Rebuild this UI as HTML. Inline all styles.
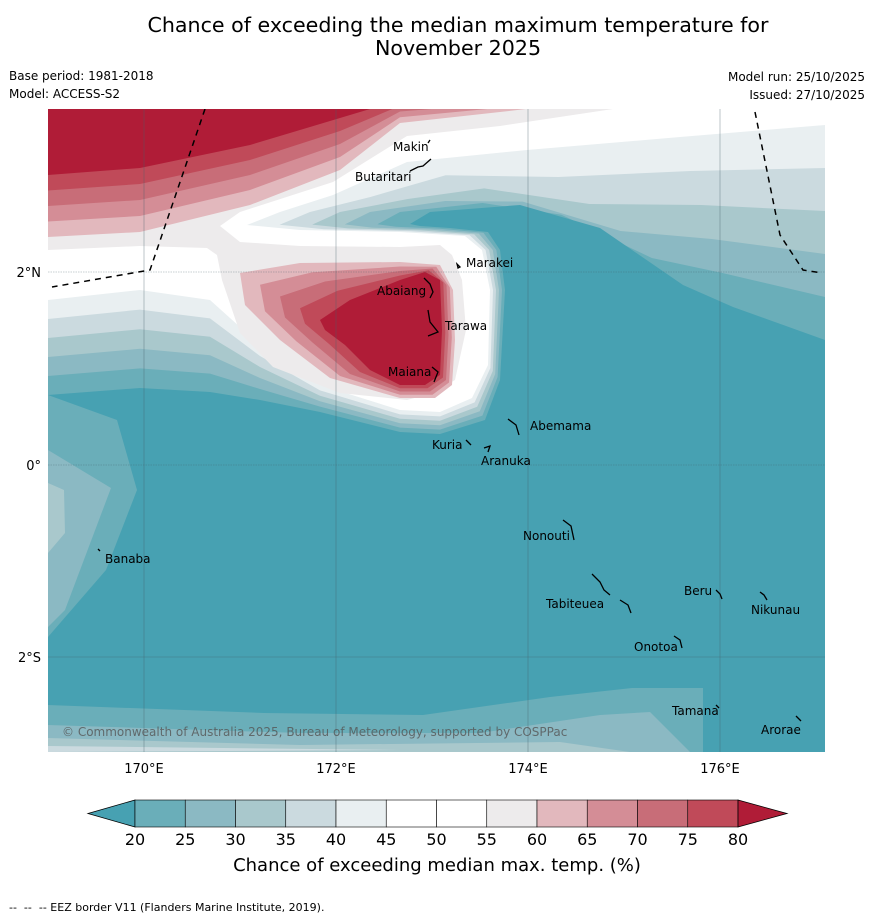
<!DOCTYPE html>
<html><head><meta charset="utf-8"><style>
html,body{margin:0;padding:0;background:#fff;}
body{width:873px;height:919px;overflow:hidden;font-family:"DejaVu Sans","Liberation Sans",sans-serif;}
svg text{font-family:"DejaVu Sans","Liberation Sans",sans-serif;}
</style></head><body>
<svg id="fig" width="873" height="919" viewBox="0 0 873 919" xmlns="http://www.w3.org/2000/svg">
<text x="458" y="32" font-size="20.6" text-anchor="middle">Chance of exceeding the median maximum temperature for</text>
<text x="458" y="55" font-size="20.6" text-anchor="middle">November 2025</text>
<text x="9" y="80" font-size="12">Base period: 1981-2018</text>
<text x="9" y="98" font-size="12">Model: ACCESS-S2</text>
<text x="865" y="81" font-size="12" text-anchor="end">Model run: 25/10/2025</text>
<text x="865" y="99" font-size="12" text-anchor="end">Issued: 27/10/2025</text>
<defs><clipPath id="mc"><rect x="48" y="109" width="777" height="643"/></clipPath></defs>
<g id="map" clip-path="url(#mc)"></g>
<g id="over"></g>
<g id="cbar"></g>
<text x="437" y="871" font-size="18" text-anchor="middle">Chance of exceeding median max. temp. (%)</text>
<text x="9" y="911" font-size="11" style="white-space:pre">--  --  -- EEZ border V11 (Flanders Marine Institute, 2019).</text>
</svg>
<script>
// colour levels (%)
const levels=[20,25,30,35,40,45,50,55,60,65,70,75,80];
const bandColors=["#47a1b2","#6aaeb9","#8bb9c3","#a9c8cc","#cbdadf","#e9eff1","#ffffff","#ffffff","#edebec","#e2b8bd","#d48d96","#c86d78","#c04a59","#b01c37"];
// contour geometry (lat/lon mapped to screen)
const L45=[[48,300],[140,290],[210,300],[260,345],[320,385],[400,410],[440,412],[472,398],[488,365],[490,290],[482,250],[465,236],[400,232],[300,230],[247,225],[280,212],[333,195],[407,162],[527,150],[680,137],[825,125]];
const L20=[[48,395],[140,388],[210,392],[260,400],[320,412],[400,432],[440,434],[485,420],[500,380],[505,290],[500,250],[488,232],[450,228],[420,226],[410,224],[430,212],[520,205],[600,228],[683,285],[733,307],[825,340]];
const N60=[[48,237],[140,232],[250,205],[340,170],[400,123],[500,112],[560,105],[680,100]];
const N80=[[48,175],[140,168],[250,145],[340,118],[400,100],[500,95],[560,95],[680,95]];
const B60=[[240,273],[300,263],[400,262],[440,265],[453,290],[455,340],[452,385],[435,398],[400,398],[330,378],[280,340],[245,305]];
const B80=[[320,320],[350,300],[400,280],[425,272],[440,280],[442,330],[440,375],[425,385],[400,385],[370,370],[345,345],[325,330]];
const G55=[[48,109],[48,250],[140,246],[207,248],[217,255],[222,280],[240,333],[273,367],[340,393],[407,400],[433,393],[455,380],[466,330],[462,280],[452,255],[440,245],[400,247],[300,246],[240,242],[220,226],[240,212],[333,182],[407,136],[500,126],[613,109]];
const bottomBands=[[[48,705],[264,713],[423,715],[550,697],[632,688],[703,688],[703,752],[48,752]],[[48,725],[300,733],[480,733],[600,715],[650,712],[690,752],[48,752]],[[48,738],[300,745],[560,742],[630,752],[48,752]],[[48,746],[400,750],[48,752]]];
const westBands=[[[48,395],[117,420],[137,490],[106,570],[48,637]],[[48,450],[111,488],[65,610],[48,627]],[[48,483],[64,490],[65,533],[48,553]]];
const xTicks=["170°E","172°E","174°E","176°E"];
const yTicks=["2°N","0°","2°S"];
const islands=[["Makin",393,151],["Butaritari",355,181],["Marakei",466,267],["Abaiang",377,295],["Tarawa",445,330],["Maiana",388,376],["Abemama",530,430],["Kuria",432,449],["Aranuka",481,465],["Banaba",105,563],["Nonouti",523,540],["Tabiteuea",546,608],["Beru",684,595],["Nikunau",751,614],["Onotoa",634,651],["Tamana",672,715],["Arorae",761,734]];

const NS="http://www.w3.org/2000/svg";
const map=document.getElementById('map'),over=document.getElementById('over'),cb=document.getElementById('cbar');
function mk(tag,attrs,parent){const e=document.createElementNS(NS,tag);for(const k in attrs)e.setAttribute(k,attrs[k]);parent.appendChild(e);return e;}
function lerp(A,B,t){return A.map((p,i)=>[p[0]+(B[i][0]-p[0])*t,p[1]+(B[i][1]-p[1])*t]);}
function pts(a){return a.map(p=>p[0].toFixed(1)+','+p[1].toFixed(1)).join(' ');}
let r=mk('rect',{x:48,y:109,width:777,height:643,fill:'#ffffff'},map);


for(let k=0;k<=5;k++){
  const t=k/5;const line=lerp(L45,L20,t);
  const poly=line.concat([[825,752],[48,752]]);
  const p=mk('polygon',{points:pts(poly),fill:bandColors[5-k]},map);
  
  
}
bottomBands.forEach((b,i)=>{const p=mk('polygon',{points:pts(b),fill:bandColors[i+1]},map);
  
  });
westBands.forEach((b,i)=>{const p=mk('polygon',{points:pts(b),fill:bandColors[i+1]},map);
  
  });
let g=mk('polygon',{points:pts(G55),fill:bandColors[8]},map);


for(let k=0;k<=4;k++){
  const t=k/4;
  const n=lerp(N60,N80,t);
  const np=mk('polygon',{points:pts([[48,109]].concat(n).concat([[825,90],[48,90]])),fill:bandColors[9+k]},map);
  
  
  const b=lerp(B60,B80,t);
  const bp=mk('polygon',{points:pts(b),fill:bandColors[9+k]},map);
  
  
}
const gx=[144,336,528,720],gy=[272,465,657];
gx.forEach((x,i)=>{const l=mk('line',{x1:x,y1:109,x2:x,y2:752,stroke:'#46606a','stroke-width':0.6,'stroke-opacity':0.6},map);
  
  
  const t=mk('text',{x:x,y:773,'font-size':13,'text-anchor':'middle'},over);t.textContent=xTicks[i];
  
  });
gy.forEach((y,i)=>{const l=mk('line',{x1:48,y1:y,x2:825,y2:y,stroke:'#46606a','stroke-width':0.6,'stroke-dasharray':i<2?'1.5 1':'none','stroke-opacity':0.6},map);
  
  
  const t=mk('text',{x:41,y:y+5,'font-size':13,'text-anchor':'end'},over);t.textContent=yTicks[i];
  
  });
[[[205,109],[150,270],[52,287]],[[755,112],[780,235],[803,270],[822,273]]].forEach(l=>{
  const p=mk('polyline',{points:pts(l),fill:'none',stroke:'#000','stroke-width':1.5,'stroke-dasharray':'6 5'},map);
  
  });
const shapes=["M428,143 l2,-3","M410,171 l8,-4 l5,-1 l8,-7","M458,268 l-1,-4 l3,3 z","M424,278 l6,6 l3,8 -3,6","M428,310 l2,12 l8,10 l-10,4","M432,367 l6,5 l-4,10","M508,419 l8,6 l3,10","M466,440 l5,5","M484,448 l6,-2 l-2,6","M98,549 l2,2","M563,520 l8,6 l3,14","M592,574 l8,8 l4,8 l6,5","M620,600 l8,5 l3,8","M716,590 l4,4 l2,5","M760,592 l4,3 l3,5","M674,636 l6,4 l2,8","M716,705 l3,3","M796,716 l5,5"];
shapes.forEach(d=>{const p=mk('path',{d:d,fill:'none',stroke:'#000','stroke-width':1.3},map);
  
  });
islands.forEach(s=>{const t=mk('text',{x:s[1],y:s[2],'font-size':12},map);t.textContent=s[0];
  
  });
let c=mk('text',{x:62,y:736,'font-size':12,fill:'#555','fill-opacity':0.8},map);c.textContent="© Commonwealth of Australia 2025, Bureau of Meteorology, supported by COSPPac";


const cx0=135,cx1=738,cy0=800,cy1=827,bw=(cx1-cx0)/(levels.length-1);
let lt=mk('polygon',{points:`${cx0},${cy0} 88,${(cy0+cy1)/2} ${cx0},${cy1}`,fill:bandColors[0],stroke:'#000','stroke-width':0.8},cb);


for(let i=0;i<levels.length-1;i++){const rr=mk('rect',{x:cx0+i*bw,y:cy0,width:bw,height:cy1-cy0,fill:bandColors[i+1],stroke:'#000','stroke-width':0.6},cb);
  
  }
let rt=mk('polygon',{points:`${cx1},${cy0} 787,${(cy0+cy1)/2} ${cx1},${cy1}`,fill:bandColors[13],stroke:'#000','stroke-width':0.8},cb);


levels.forEach((v,i)=>{const t=mk('text',{x:cx0+i*bw,y:845,'font-size':16,'text-anchor':'middle'},cb);t.textContent=v;
  
  });
</script>
</body></html>
